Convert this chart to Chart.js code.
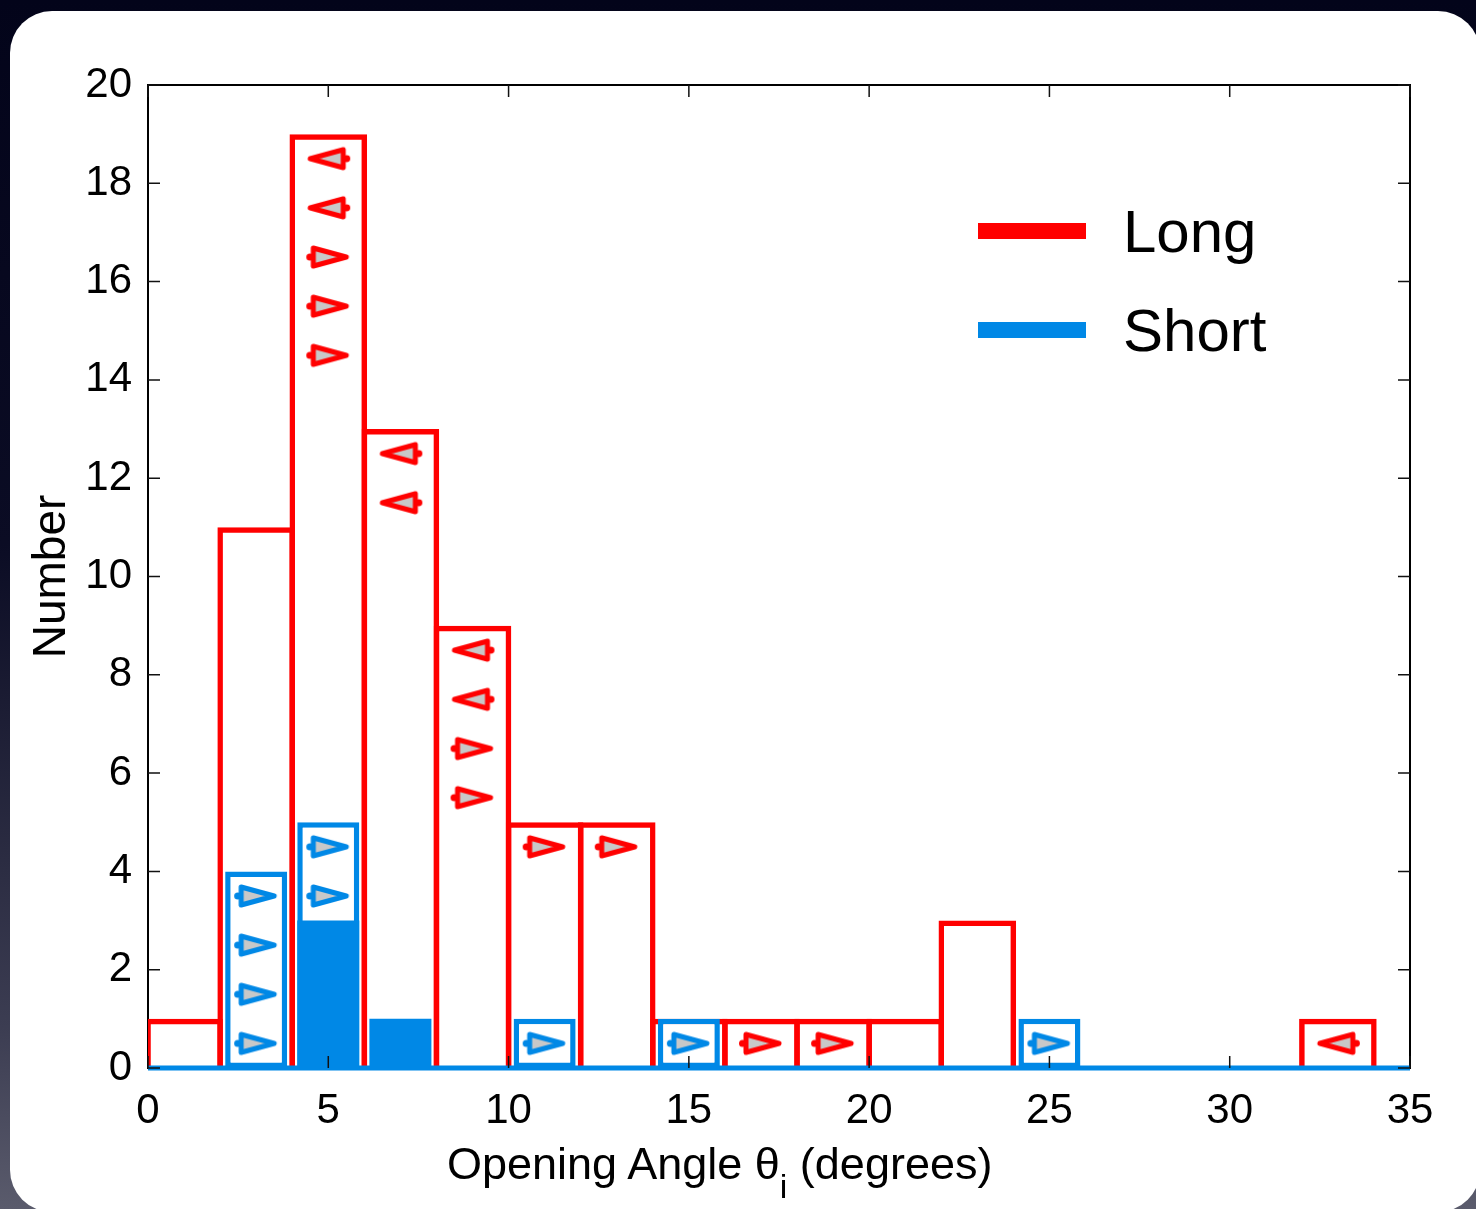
<!DOCTYPE html>
<html>
<head>
<meta charset="utf-8">
<title>Opening angle histogram</title>
<script src="https://cdn.jsdelivr.net/npm/chart.js@4.4.1/dist/chart.umd.min.js"></script>
<style>
  html, body { margin: 0; padding: 0; }
  body {
    width: 1476px; height: 1209px; overflow: hidden; position: relative;
    background: linear-gradient(180deg, #03041a 0%, #0b0c24 45%, #3c3d52 85%, #5a5b6c 100%);
    font-family: "Liberation Sans", Arial, Helvetica, sans-serif;
  }
  #panel {
    position: absolute; left: 10px; top: 11px; width: 1470px; height: 1201px;
    background: #fff; border-radius: 42px;
  }
  #chart { position: absolute; left: 0; top: 0; }
  .legend-line { position: absolute; left: 978px; width: 108px; height: 16px; }
  .legend-text { position: absolute; left: 1123px; font-size: 60px; line-height: 1; color: #000; }
  #xtitle {
    position: absolute; left: 447px; top: 1141px; font-size: 45px; line-height: 1;
    color: #000; white-space: nowrap;
  }
  #xtitle sub { font-size: 34px; vertical-align: -0.55em; line-height: 0; }
</style>
</head>
<body>
<div id="panel"></div>
<canvas id="chart" width="1476" height="1209"></canvas>

<div class="legend-line" style="top:223px;background:#ff0000"></div>
<div class="legend-text" style="top:202px">Long</div>
<div class="legend-line" style="top:322px;background:#0088e6"></div>
<div class="legend-text" style="top:301px">Short</div>
<div id="xtitle">Opening Angle θ<sub>i</sub> (degrees)</div>

<script>
// 2-degree bins, centres in degrees
const binCenters = [1, 3, 5, 7, 9, 11, 13, 15, 17, 19, 21, 23, 25, 27, 29, 31, 33];
const longCounts = [1, 11, 19, 13, 9, 5, 5, 1, 1, 1, 1, 3, 0, 0, 0, 0, 1];
const shortCounts = [0, 4, 5, 0, 0, 1, 0, 1, 0, 0, 0, 0, 1, 0, 0, 0, 0];
const shortMeasured = [0, 0, 3, 1, 0, 0, 0, 0, 0, 0, 0, 0, 0, 0, 0, 0, 0];

// limit arrows (bin centre, height inside the bar)
const longLowerX = [5, 5, 5, 9, 9, 11, 13, 17, 19];
const longLowerY = [16.5, 15.5, 14.5, 6.5, 5.5, 4.5, 4.5, 0.5, 0.5];
const longUpperX = [5, 5, 7, 7, 9, 9, 33];
const longUpperY = [18.5, 17.5, 12.5, 11.5, 8.5, 7.5, 0.5];
const shortLowerX = [3, 3, 3, 3, 5, 5, 11, 15, 25];
const shortLowerY = [3.5, 2.5, 1.5, 0.5, 4.5, 3.5, 0.5, 0.5, 0.5];

const xTicks = [0, 5, 10, 15, 20, 25, 30, 35];
const yTicks = [0, 2, 4, 6, 8, 10, 12, 14, 16, 18, 20];

const RED = '#ff0000';
const BLUE = '#0088e6';
const FONT = '"Liberation Sans", Arial, Helvetica, sans-serif';

function pts(xs, ys) {
    return xs.map((x, i) => ({ x: x, y: ys[i] }));
}

// arrow marker: grey triangle with coloured rim and a small knob at the base
function makeArrow(color) {
    const c = document.createElement('canvas');
    c.width = 50;
    c.height = 32;
    const g = c.getContext('2d');
    g.lineWidth = 5;
    g.lineJoin = 'round';
    g.strokeStyle = color;
    g.fillStyle = '#c8c8c8';
    g.beginPath();
    g.moveTo(10, 7);
    g.lineTo(43, 16);
    g.lineTo(10, 25);
    g.closePath();
    g.fill();
    g.stroke();
    g.beginPath();
    g.arc(6.5, 16, 3.5, 0, Math.PI * 2);
    g.fillStyle = color;
    g.fill();
    return c;
}
const redArrow = makeArrow(RED);
const blueArrow = makeArrow(BLUE);

// box frame under the data, inward tick marks over it
const frameTicks = {
    id: 'frameTicks',
    beforeDatasetsDraw(chart) {
        const { ctx, chartArea: a } = chart;
        ctx.save();
        ctx.strokeStyle = '#000';
        ctx.lineWidth = 2;
        ctx.strokeRect(a.left, a.top, a.right - a.left, a.bottom - a.top);
        ctx.restore();
    },
    afterDatasetsDraw(chart) {
        const { ctx, chartArea: a, scales } = chart;
        const len = 12;
        ctx.save();
        ctx.strokeStyle = '#111';
        ctx.lineWidth = 1.5;
        ctx.beginPath();
        xTicks.forEach(v => {
            const px = scales.x.getPixelForValue(v);
            ctx.moveTo(px, a.bottom);
            ctx.lineTo(px, a.bottom - len);
            ctx.moveTo(px, a.top);
            ctx.lineTo(px, a.top + len);
        });
        yTicks.forEach(v => {
            const py = scales.y.getPixelForValue(v);
            ctx.moveTo(a.left, py);
            ctx.lineTo(a.left + len, py);
            ctx.moveTo(a.right, py);
            ctx.lineTo(a.right - len, py);
        });
        ctx.stroke();
        ctx.restore();
    }
};

const ctx = document.getElementById('chart').getContext('2d');
const chart = new Chart(ctx, {
    type: 'bar',
    data: {
        datasets: [
            {
                type: 'scatter', label: 'Long lower limits', order: 0,
                data: pts(longLowerX, longLowerY),
                pointStyle: redArrow, rotation: 0
            },
            {
                type: 'scatter', label: 'Long upper limits', order: 0,
                data: pts(longUpperX, longUpperY),
                pointStyle: redArrow, rotation: 180
            },
            {
                type: 'scatter', label: 'Short lower limits', order: 0,
                data: pts(shortLowerX, shortLowerY),
                pointStyle: blueArrow, rotation: 0
            },
            {
                label: 'Short measured', order: 1,
                data: pts(binCenters, shortMeasured),
                backgroundColor: BLUE, borderWidth: 0,
                barPercentage: 0.86, categoryPercentage: 1, grouped: false
            },
            {
                label: 'Short', order: 2,
                data: pts(binCenters, shortCounts),
                backgroundColor: '#ffffff', borderColor: BLUE, borderWidth: 5.5,
                borderSkipped: false,
                barPercentage: 0.86, categoryPercentage: 1, grouped: false
            },
            {
                type: 'line', label: 'Short baseline', order: 3,
                data: [{ x: 0, y: 0 }, { x: 35, y: 0 }],
                borderColor: BLUE, borderWidth: 5, pointRadius: 0, clip: false
            },
            {
                label: 'Long', order: 4,
                data: pts(binCenters, longCounts),
                backgroundColor: 'rgba(0,0,0,0)', borderColor: RED, borderWidth: 5.5,
                barPercentage: 1.076, categoryPercentage: 1, grouped: false
            }
        ]
    },
    options: {
        responsive: false,
        animation: false,
        layout: { padding: { left: 0, top: 85, right: 66, bottom: 0 } },
        plugins: {
            legend: { display: false },
            tooltip: { enabled: false }
        },
        scales: {
            x: {
                type: 'linear',
                min: 0,
                max: 35,
                offset: false,
                grid: { display: false },
                border: { display: false },
                afterBuildTicks: (scale) => { scale.ticks = xTicks.map(v => ({ value: v })); },
                ticks: {
                    padding: 10,
                    color: '#000',
                    font: { family: FONT, size: 42 }
                },
                afterFit: (scale) => { scale.height = 141; }
            },
            y: {
                min: 0,
                max: 20,
                grid: { display: false },
                border: { display: false },
                afterBuildTicks: (scale) => { scale.ticks = yTicks.map(v => ({ value: v })); },
                ticks: {
                    padding: 8,
                    color: '#000',
                    font: { family: FONT, size: 42 }
                },
                title: {
                    display: true,
                    text: 'Number',
                    color: '#000',
                    padding: { top: 25, bottom: 0 },
                    font: { family: FONT, size: 46 }
                },
                afterFit: (scale) => { scale.width = 148; }
            }
        }
    },
    plugins: [frameTicks]
});
</script>
</body>
</html>
